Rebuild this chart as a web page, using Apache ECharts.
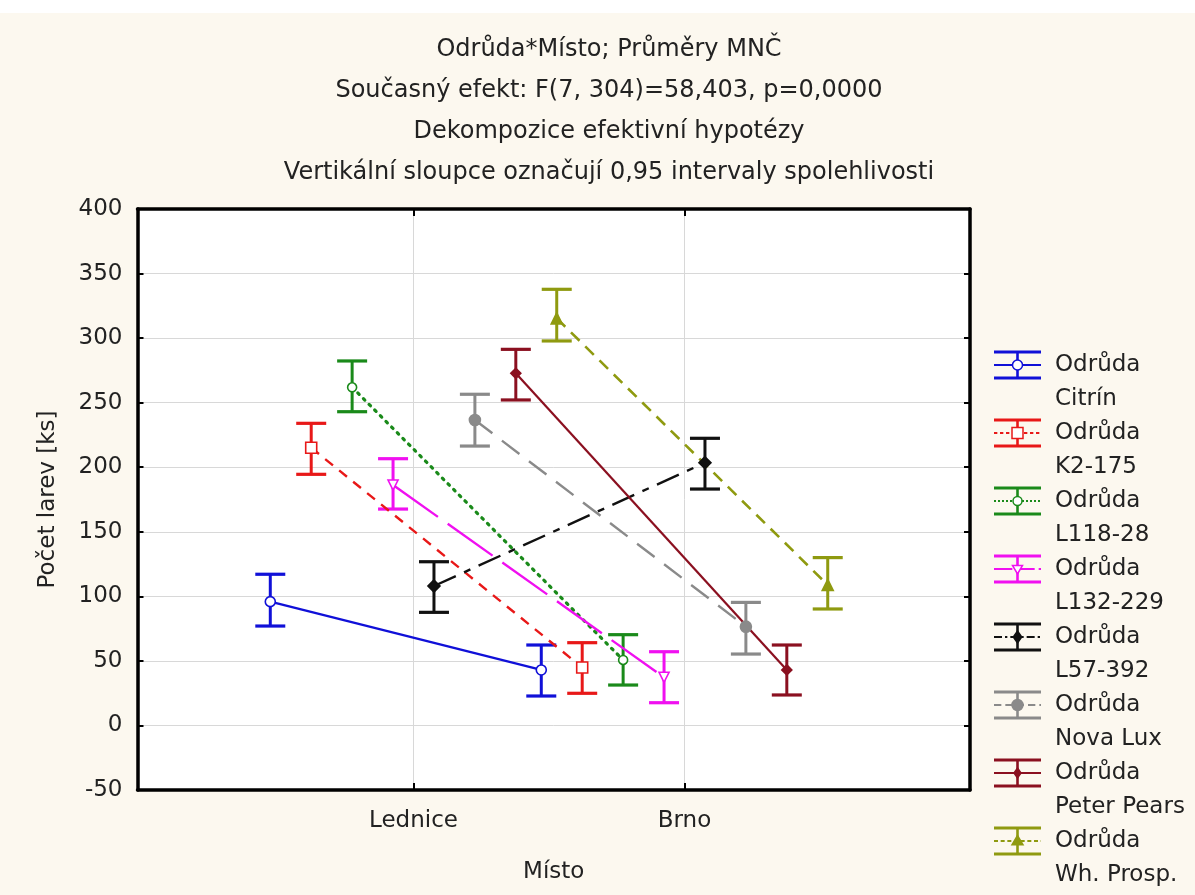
<!DOCTYPE html>
<html>
<head>
<meta charset="utf-8">
<script src="https://cdn.jsdelivr.net/npm/echarts@6/dist/echarts.min.js"></script>
<style>html,body{margin:0;padding:0;background:#fcf8ef;}#c{width:1195px;height:895px;}</style>
</head>
<body>
<div id="c"></div>
<script>
// ---- data ----
const titleLines = [
  'Odrůda*Místo; Průměry MNČ',
  'Současný efekt: F(7, 304)=58,403, p=0,0000',
  'Dekompozice efektivní hypotézy',
  'Vertikální sloupce označují 0,95 intervaly spolehlivosti'
];
const places = ['Lednice', 'Brno'];
const varieties = ['Citrín', 'K2-175', 'L118-28', 'L132-229', 'L57-392', 'Nova Lux', 'Peter Pears', 'Wh. Prosp.'];
const meanLednice = [95.9, 215.1, 261.9, 186.2, 108.0, 236.6, 272.7, 315.3];
const lowLednice  = [77.0, 194.5, 243.0, 167.6, 87.6, 216.4, 252.1, 297.8];
const highLednice = [117.1, 234.0, 282.3, 206.6, 126.8, 256.5, 291.3, 337.8];
const meanBrno = [43.0, 44.9, 50.7, 37.3, 203.5, 76.5, 43.0, 108.8];
const lowBrno  = [22.8, 24.9, 31.3, 17.6, 183.1, 55.3, 23.6, 90.2];
const highBrno = [62.3, 64.1, 70.3, 57.1, 222.4, 95.3, 62.3, 130.0];
const yTicks = [-50, 0, 50, 100, 150, 200, 250, 300, 350, 400];

// ---- styles ----
const FONT = 'DejaVu Sans';
const TXT = '#222';
const styles = [
  {color: '#1010d8', dash: 'solid', width: 2.2, symbol: 'circle', size: 10, open: true},
  {color: '#e81818', dash: [10, 8], width: 2.4, symbol: 'rect', size: 11, open: true},
  {color: '#1a8a1a', dash: [2, 6], width: 3.2, symbol: 'circle', size: 9, open: true, cap: 'round'},
  {color: '#f010f0', dash: [55, 12], width: 2.4, symbol: 'triangle', size: 10, open: true, rot: 180},
  {color: '#111111', dash: [24, 9, 7, 9], width: 2.4, symbol: 'diamond', size: 12, open: false},
  {color: '#8a8a8a', dash: [22, 12], width: 2.4, symbol: 'circle', size: 11, open: false},
  {color: '#8b1020', dash: 'solid', width: 2.2, symbol: 'diamond', size: 10, open: false},
  {color: '#8f9a10', dash: [12, 8], width: 2.6, symbol: 'triangle', size: 11, open: false}
];
const dodge = 0.151;   // horizontal offset step between varieties (axis units)
const xMin = -0.0185, xMax = 3.0535;
const nV = varieties.length;
const off = i => (i - (nV - 1) / 2) * dodge;

const series = [];
varieties.forEach((v, i) => {
  const s = styles[i];
  series.push({
    type: 'custom',
    name: v + ' CI',
    z: 2,
    silent: true,
    data: [[1 + off(i), lowLednice[i], highLednice[i]], [2 + off(i), lowBrno[i], highBrno[i]]],
    renderItem: (params, api) => {
      const x = api.value(0);
      const top = api.coord([x, api.value(2)]);
      const bot = api.coord([x, api.value(1)]);
      const hw = 15;
      const st = {stroke: s.color, lineWidth: 3.2};
      return {type: 'group', children: [
        {type: 'line', shape: {x1: top[0], y1: top[1], x2: bot[0], y2: bot[1]}, style: {stroke: s.color, lineWidth: 3}},
        {type: 'line', shape: {x1: top[0] - hw, y1: top[1], x2: top[0] + hw, y2: top[1]}, style: st},
        {type: 'line', shape: {x1: bot[0] - hw, y1: bot[1], x2: bot[0] + hw, y2: bot[1]}, style: st}
      ]};
    }
  });
  series.push({
    type: 'line',
    name: v,
    z: 3,
    data: [[1 + off(i), meanLednice[i]], [2 + off(i), meanBrno[i]]],
    symbol: s.symbol,
    symbolSize: s.size,
    symbolRotate: s.rot || 0,
    showSymbol: true,
    lineStyle: {color: s.color, width: s.width, type: s.dash, cap: s.cap || 'butt'},
    itemStyle: {color: s.open ? '#ffffff' : s.color, borderColor: s.color, borderWidth: 1.6},
    emphasis: {disabled: true}
  });
});

// ---- legend drawn as graphic elements ----
const graphics = [{type: 'rect', left: 0, top: 0, shape: {width: 1195, height: 13}, style: {fill: '#ffffff'}, silent: true}];
const LX = 994, LW = 47, LY0 = 365, LPITCH = 68, LLINE = 34;
varieties.forEach((v, i) => {
  const s = styles[i];
  const cy = LY0 + i * LPITCH;
  const cx = LX + LW / 2;
  const kids = [
    {type: 'line', shape: {x1: LX, y1: cy - 13, x2: LX + LW, y2: cy - 13}, style: {stroke: s.color, lineWidth: 3}},
    {type: 'line', shape: {x1: LX, y1: cy + 13, x2: LX + LW, y2: cy + 13}, style: {stroke: s.color, lineWidth: 3}},
    {type: 'line', shape: {x1: cx, y1: cy - 13, x2: cx, y2: cy + 13}, style: {stroke: s.color, lineWidth: 2.6}},
    {type: 'line', shape: {x1: LX, y1: cy, x2: LX + LW, y2: cy}, style: {stroke: s.color, lineWidth: 2, lineDash: s.dash === 'solid' ? null : s.dash.map(d => Math.max(2, d / 3))}}
  ];
  const fill = s.open ? '#ffffff' : s.color;
  const r = s.size / 2;
  let mk;
  if (s.symbol === 'circle') mk = {type: 'circle', shape: {cx: cx, cy: cy, r: r}, style: {fill: fill, stroke: s.color, lineWidth: 1.5}};
  else if (s.symbol === 'rect') mk = {type: 'rect', shape: {x: cx - r, y: cy - r, width: 2 * r, height: 2 * r}, style: {fill: fill, stroke: s.color, lineWidth: 1.5}};
  else if (s.symbol === 'diamond') mk = {type: 'polygon', shape: {points: [[cx, cy - r], [cx + r * 0.7, cy], [cx, cy + r], [cx - r * 0.7, cy]]}, style: {fill: fill, stroke: s.color, lineWidth: 1.5}};
  else if (s.rot) mk = {type: 'polygon', shape: {points: [[cx - r, cy - r * 0.7], [cx + r, cy - r * 0.7], [cx, cy + r]]}, style: {fill: fill, stroke: s.color, lineWidth: 1.5}};
  else mk = {type: 'polygon', shape: {points: [[cx - r, cy + r * 0.7], [cx + r, cy + r * 0.7], [cx, cy - r]]}, style: {fill: fill, stroke: s.color, lineWidth: 1.5}};
  kids.push(mk);
  kids.push({type: 'text', x: 1055, y: cy, style: {text: 'Odrůda', fill: TXT, font: '23px "' + FONT + '"', verticalAlign: 'middle', align: 'left'}});
  kids.push({type: 'text', x: 1055, y: cy + LLINE, style: {text: v, fill: TXT, font: '23px "' + FONT + '"', verticalAlign: 'middle', align: 'left'}});
  graphics.push({type: 'group', silent: true, children: kids});
});

const axisTxt = {fontFamily: FONT, fontSize: 23, color: TXT};
const frameLine = {show: true, onZero: false, lineStyle: {color: '#000', width: 3.5}};
const option = {
  backgroundColor: '#fcf8ef',
  animation: false,
  title: {
    text: titleLines.join('\n'),
    left: 604, top: 24, textAlign: 'center',
    textStyle: {fontFamily: FONT, fontSize: 24, fontWeight: 'normal', color: TXT, lineHeight: 41}
  },
  grid: {left: 137.5, right: 225, top: 209, bottom: 105, show: true, backgroundColor: '#ffffff', borderWidth: 0},
  xAxis: [
    {
      type: 'value', position: 'bottom', min: xMin, max: xMax,
      name: 'Místo', nameLocation: 'middle', nameGap: 71, nameTextStyle: axisTxt,
      axisLine: frameLine,
      axisTick: {show: true, inside: true, length: 7, customValues: [1, 2], lineStyle: {color: '#000', width: 2}},
      axisLabel: {customValues: [1, 2], formatter: v => places[Math.round(v) - 1] || '', margin: 20, ...axisTxt},
      splitLine: {show: true, lineStyle: {color: '#d8d8d8', width: 1}}
    },
    {
      type: 'value', position: 'top', min: xMin, max: xMax,
      axisLine: frameLine,
      axisTick: {show: true, inside: true, length: 7, customValues: [1, 2], lineStyle: {color: '#000', width: 2}},
      axisLabel: {show: false},
      splitLine: {show: false}
    }
  ],
  yAxis: [
    {
      type: 'value', position: 'left', min: yTicks[0], max: yTicks[yTicks.length - 1], interval: 50,
      name: 'Počet larev [ks]', nameLocation: 'middle', nameGap: 78, nameTextStyle: axisTxt,
      axisLine: frameLine,
      axisTick: {show: true, inside: true, length: 6, lineStyle: {color: '#000', width: 2}},
      axisLabel: {margin: 15, ...axisTxt},
      splitLine: {show: true, lineStyle: {color: '#d8d8d8', width: 1}}
    },
    {
      type: 'value', position: 'right', min: yTicks[0], max: yTicks[yTicks.length - 1], interval: 50,
      axisLine: frameLine,
      axisTick: {show: true, inside: true, length: 6, lineStyle: {color: '#000', width: 2}},
      axisLabel: {show: false},
      splitLine: {show: false}
    }
  ],
  series: series,
  graphic: graphics
};
const chart = echarts.init(document.getElementById('c'), null, {renderer: 'canvas'});
chart.setOption(option);
</script>
</body>
</html>
